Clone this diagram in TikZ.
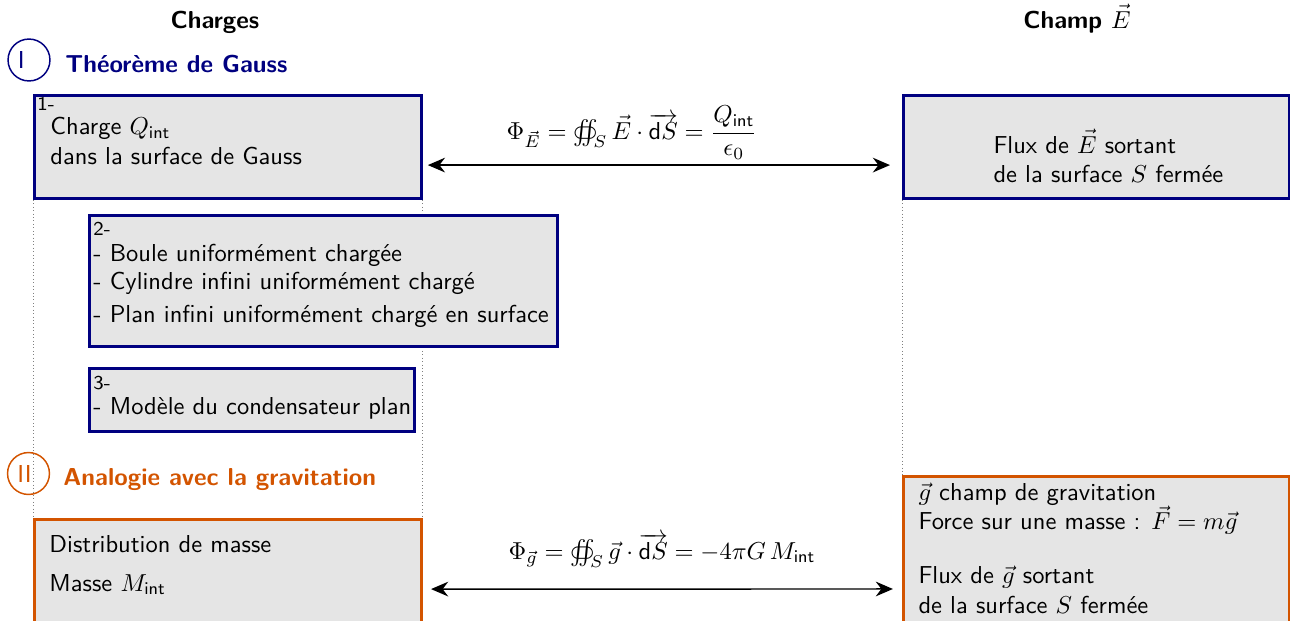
\documentclass[tikz,border=0pt]{standalone}
\usepackage{amsmath,amssymb}
\usepackage{esint}
\usetikzlibrary{arrows.meta, positioning, backgrounds}
\renewcommand{\familydefault}{\sfdefault}
\definecolor{gaussblue}{HTML}{000080}
\definecolor{gravorange}{HTML}{D35400}

\begin{document}
\begin{tikzpicture}[x=0.408pt, y=-0.408pt,
  head/.style={font=\sffamily\bfseries},
  secnum/.style={circle, draw, semithick, minimum size=17.1pt, inner sep=0pt},
  sectitle/.style={font=\sffamily\bfseries, anchor=base west, inner sep=0pt},
  box/.style={draw=gaussblue, line width=1.2pt, fill=gray!20, anchor=north west, inner sep=0pt},
  gbox/.style={box, draw=gravorange},
  num/.style={font=\sffamily\footnotesize, anchor=north west, inner sep=0pt},
  txt/.style={anchor=west, align=left, inner sep=0pt},
  link/.style={{Stealth[length=7pt,width=6pt]}-{Stealth[length=7pt,width=6pt]}, semithick},
  guide/.style={densely dotted, gray, line width=0.4pt}]
\useasboundingbox (0,0) rectangle (1290,620);
\clip (0,0) rectangle (1290,620);

% en-tetes des colonnes
\node[head] (hq) at (215,22) {Charges};
\node[head, anchor=base] (he) at (1077,28) {Champ $\vec{E}$};

% I - Gauss
\node[secnum, draw=gaussblue, text=gaussblue] (sI) at (29,60) {\makebox[9pt][l]{I}};
\node[sectitle, text=gaussblue] (tI) at (65,72) {Théorème de Gauss};

\node[box, minimum width=157.9pt, minimum height=42pt] (b1) at (33,94) {};
\node[num] (n1) at (37,97) {1-};
\node[txt] (t1) at (50,141) {Charge $Q_{\mathsf{int}}$\\dans la surface de Gauss};

\node[box, minimum width=157.5pt, minimum height=42pt] (e1) at (902,94) {};
\node[txt] (u1) at (993,156) {Flux de $\vec{E}$ sortant\\de la surface $S$ fermée};

\draw[link] ([shift={(2pt,-29pt)}]b1.north east) -- ([shift={(-4.9pt,-29pt)}]e1.north west)
  node[midway, above=-1.4pt, xshift=-11pt] (f1) {$\Phi_{\vec{E}} = \oiint_S \vec{E}\cdot\overrightarrow{\mathsf{d}S} = \dfrac{Q_{\mathsf{int}}}{\epsilon_0}$};

\node[box, minimum width=190.9pt, minimum height=53.4pt] (b2) at (88,214) {};
\node[num] (n2) at (93,222) {2-};
\node[txt] (t2) at (93,286) {- Boule uniformément chargée\\[-0.8pt]- Cylindre infini uniformément chargé\\[1.6pt]- Plan infini uniformément chargé en surface};

\node[box, minimum width=132.6pt, minimum height=25.7pt] (b3) at (88,367) {};
\node[num] (n3) at (93,376) {3-};
\node[txt] (t3) at (93,408) {- Modèle du condensateur plan};

% II - gravitation
\node[secnum, draw=gravorange, text=gravorange] (sII) at (28.5,473.5) {\makebox[9pt][l]{II}};
\node[sectitle, text=gravorange] (tII) at (63,485) {Analogie avec la gravitation};

\node[gbox, minimum width=157.9pt, minimum height=61.2pt] (b4) at (33,518) {};
\node[txt] (t4) at (49,565) {Distribution de masse\\[4pt]Masse $M_{\mathsf{int}}$};

\node[gbox, minimum width=157.5pt, minimum height=77.5pt] (e2) at (902,475) {};
\node[txt] (u2) at (918,548) {$\vec{g}$ champ de gravitation\\Force sur une masse : $\vec{F}=m\vec{g}$\\[10pt]Flux de $\vec{g}$ sortant\\de la surface $S$ fermée};

\draw[link] ([shift={(3.3pt,-29pt)}]b4.north east) -- ([shift={(-3.7pt,-46.5pt)}]e2.north west)
  node[midway, above=5pt] (f2) {$\Phi_{\vec{g}} = \oiint_S \vec{g}\cdot\overrightarrow{\mathsf{d}S} = -4\pi G\,M_{\mathsf{int}}$};

% pointilles de colonnes
\begin{scope}[on background layer]
\draw[guide] (b1.south west) -- (b4.north west);
\draw[guide] (b1.south east) -- (b4.north east);
\draw[guide] (e1.south west) -- (e2.north west);
\draw[guide, shorten <=17.5pt] (e1.south east) -- (e2.north east);
\end{scope}
\end{tikzpicture}
\end{document}
